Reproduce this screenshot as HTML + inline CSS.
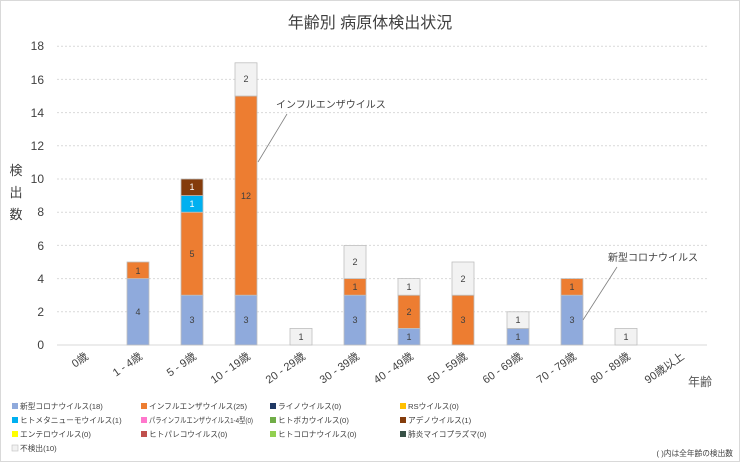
<!DOCTYPE html>
<html><head><meta charset="utf-8"><style>
body{margin:0;background:#fff}
svg{display:block;font-family:"Liberation Sans","Noto Sans CJK JP",sans-serif}
</style></head><body>
<svg width="740" height="462" viewBox="0 0 740 462" xmlns="http://www.w3.org/2000/svg">
<rect x="0.5" y="0.5" width="739" height="461" fill="#fff" stroke="#d9d9d9"/>
<text x="370" y="28" font-size="16" text-anchor="middle" fill="#404040">年齢別 病原体検出状況</text>
<g stroke="#d9d9d9" stroke-dasharray="2,2" stroke-width="1">
<line x1="57" x2="707" y1="46.2" y2="46.2"/><line x1="57" x2="707" y1="79.4" y2="79.4"/>
<line x1="57" x2="707" y1="112.6" y2="112.6"/><line x1="57" x2="707" y1="145.8" y2="145.8"/>
<line x1="57" x2="707" y1="179" y2="179"/><line x1="57" x2="707" y1="212.2" y2="212.2"/>
<line x1="57" x2="707" y1="245.4" y2="245.4"/><line x1="57" x2="707" y1="278.6" y2="278.6"/>
<line x1="57" x2="707" y1="311.8" y2="311.8"/>
</g>
<line x1="57" x2="707" y1="345" y2="345" stroke="#d9d9d9"/>
<g font-size="12" fill="#404040" text-anchor="end">
<text x="44" y="50">18</text><text x="44" y="84">16</text><text x="44" y="117">14</text>
<text x="44" y="150">12</text><text x="44" y="183">10</text><text x="44" y="216">8</text>
<text x="44" y="250">6</text><text x="44" y="283">4</text><text x="44" y="316">2</text>
<text x="44" y="349">0</text>
</g>
<g font-size="13" fill="#404040" text-anchor="middle">
<text x="16" y="175">検</text><text x="16" y="197">出</text><text x="16" y="219">数</text>
</g>
<text x="700" y="386" font-size="12" fill="#595959" text-anchor="middle">年齢</text>
<g stroke="#bfbfbf" stroke-width="0.8">
<rect x="127" y="278.6" width="22" height="66.4" fill="#8faadc"/>
<rect x="127" y="262" width="22" height="16.6" fill="#ed7d31"/>
<rect x="181" y="295.2" width="22" height="49.8" fill="#8faadc"/>
<rect x="181" y="212.2" width="22" height="83" fill="#ed7d31"/>
<rect x="181" y="195.6" width="22" height="16.6" fill="#00b0f0"/>
<rect x="181" y="179" width="22" height="16.6" fill="#843c0c"/>
<rect x="235" y="295.2" width="22" height="49.8" fill="#8faadc"/>
<rect x="235" y="96" width="22" height="199.2" fill="#ed7d31"/>
<rect x="235" y="62.8" width="22" height="33.2" fill="#f2f2f2"/>
<rect x="290" y="328.4" width="22" height="16.6" fill="#f2f2f2"/>
<rect x="344" y="295.2" width="22" height="49.8" fill="#8faadc"/>
<rect x="344" y="278.6" width="22" height="16.6" fill="#ed7d31"/>
<rect x="344" y="245.4" width="22" height="33.2" fill="#f2f2f2"/>
<rect x="398" y="328.4" width="22" height="16.6" fill="#8faadc"/>
<rect x="398" y="295.2" width="22" height="33.2" fill="#ed7d31"/>
<rect x="398" y="278.6" width="22" height="16.6" fill="#f2f2f2"/>
<rect x="452" y="295.2" width="22" height="49.8" fill="#ed7d31"/>
<rect x="452" y="262" width="22" height="33.2" fill="#f2f2f2"/>
<rect x="507" y="328.4" width="22" height="16.6" fill="#8faadc"/>
<rect x="507" y="311.8" width="22" height="16.6" fill="#f2f2f2"/>
<rect x="561" y="295.2" width="22" height="49.8" fill="#8faadc"/>
<rect x="561" y="278.6" width="22" height="16.6" fill="#ed7d31"/>
<rect x="615" y="328.4" width="22" height="16.6" fill="#f2f2f2"/>
</g>
<g font-size="9" fill="#404040" text-anchor="middle">
<text x="138" y="315">4</text><text x="138" y="274">1</text>
<text x="192" y="323">3</text><text x="192" y="257">5</text><text x="192" y="207" fill="#fff">1</text><text x="192" y="190" fill="#fff">1</text>
<text x="246" y="323">3</text><text x="246" y="199">12</text><text x="246" y="82">2</text>
<text x="301" y="340">1</text>
<text x="355" y="323">3</text><text x="355" y="290">1</text><text x="355" y="265">2</text>
<text x="409" y="340">1</text><text x="409" y="315">2</text><text x="409" y="290">1</text>
<text x="463" y="323">3</text><text x="463" y="282">2</text>
<text x="518" y="340">1</text><text x="518" y="323">1</text>
<text x="572" y="323">3</text><text x="572" y="290">1</text>
<text x="626" y="340">1</text>
</g>
<g font-size="10" fill="#404040">
<text x="276" y="108">インフルエンザウイルス</text>
<text x="608" y="261">新型コロナウイルス</text>
</g>
<line x1="287" y1="114" x2="258" y2="162" stroke="#808080" stroke-width="0.8"/>
<line x1="617" y1="267" x2="583" y2="320" stroke="#808080" stroke-width="0.8"/>
<g font-size="11" fill="#404040" text-anchor="end">
<text transform="translate(89,358) rotate(-35)">0歳</text>
<text transform="translate(143,358) rotate(-35)">1 - 4歳</text>
<text transform="translate(197,358) rotate(-35)">5 - 9歳</text>
<text transform="translate(251,358) rotate(-35)">10 - 19歳</text>
<text transform="translate(306,358) rotate(-35)">20 - 29歳</text>
<text transform="translate(360,358) rotate(-35)">30 - 39歳</text>
<text transform="translate(414,358) rotate(-35)">40 - 49歳</text>
<text transform="translate(468,358) rotate(-35)">50 - 59歳</text>
<text transform="translate(523,358) rotate(-35)">60 - 69歳</text>
<text transform="translate(577,358) rotate(-35)">70 - 79歳</text>
<text transform="translate(631,358) rotate(-35)">80 - 89歳</text>
<text transform="translate(685,358) rotate(-35)">90歳以上</text>
</g>
<g font-size="7.7" fill="#404040">
<rect x="12" y="403" width="6" height="6" fill="#8faadc"/><text x="20" y="409">新型コロナウイルス(18)</text>
<rect x="141" y="403" width="6" height="6" fill="#ed7d31"/><text x="149" y="409">インフルエンザウイルス(25)</text>
<rect x="270" y="403" width="6" height="6" fill="#1f3864"/><text x="278" y="409">ライノウイルス(0)</text>
<rect x="400" y="403" width="6" height="6" fill="#ffc000"/><text x="408" y="409">RSウイルス(0)</text>
<rect x="12" y="417" width="6" height="6" fill="#00b0f0"/><text x="20" y="423">ヒトメタニューモウイルス(1)</text>
<rect x="141" y="417" width="6" height="6" fill="#ff77cc"/><text x="149" y="423" textLength="104" lengthAdjust="spacingAndGlyphs">パラインフルエンザウイルス1-4型(0)</text>
<rect x="270" y="417" width="6" height="6" fill="#70ad47"/><text x="278" y="423">ヒトボカウイルス(0)</text>
<rect x="400" y="417" width="6" height="6" fill="#843c0c"/><text x="408" y="423">アデノウイルス(1)</text>
<rect x="12" y="431" width="6" height="6" fill="#ffff00"/><text x="20" y="437">エンテロウイルス(0)</text>
<rect x="141" y="431" width="6" height="6" fill="#c0504d"/><text x="149" y="437">ヒトパレコウイルス(0)</text>
<rect x="270" y="431" width="6" height="6" fill="#92d050"/><text x="278" y="437">ヒトコロナウイルス(0)</text>
<rect x="400" y="431" width="6" height="6" fill="#375046"/><text x="408" y="437">肺炎マイコプラズマ(0)</text>
<rect x="12" y="445" width="6" height="6" fill="#f2f2f2" stroke="#bfbfbf" stroke-width="0.6"/><text x="20" y="451">不検出(10)</text>
<text x="733" y="456" text-anchor="end">( )内は全年齢の検出数</text>
</g>
</svg>
</body></html>
